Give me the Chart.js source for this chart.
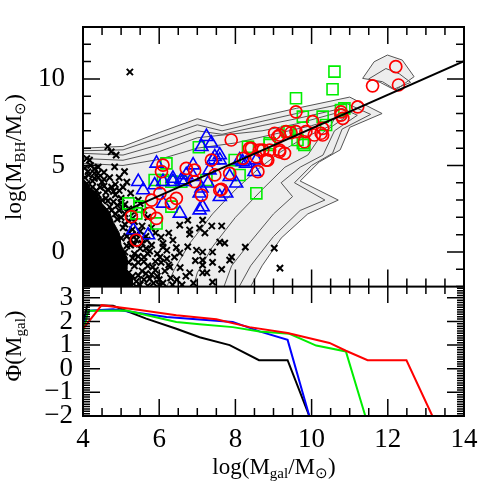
<!DOCTYPE html>
<html>
<head>
<meta charset="utf-8">
<script src="https://cdn.jsdelivr.net/npm/chart.js@4.4.0/dist/chart.umd.min.js"></script>
<style>
  body { margin: 0; background: #fff; }
  #wrap { position: relative; width: 491px; height: 491px; }
  canvas { position: absolute; left: 0; }
  #top { top: 0; }
  #bot { top: 286px; }
</style>
</head>
<body>
<div id="wrap">
  <canvas id="top" width="491" height="287"></canvas>
  <canvas id="bot" width="491" height="205"></canvas>
</div>
<script>
// ---- data ----
// upper panel: log M_BH vs log M_gal
var crosses = [
  [5.23,10.4],[4.65,6.08],[4.74,5.79],[4.87,5.6],[4.17,5.31],[4.83,4.92],[4.13,4.64],[4.39,4.54],[5.09,4.64],
  [4.1,5.4],[4.3,4.55],[4.45,3.75],[4.05,4.3],[4.25,4.1],[4.55,4.2],[4.4,4.9],[4.2,5.0],[4.65,3.6],[4.85,3.9],
  [5.15,4.04],[4.1,3.95],[4.35,3.55],[4.6,3.1],[4.8,2.9],[5.0,3.1],[4.95,2.4],[5.1,2.2],[5.2,1.8],[4.9,1.9],
  [5.05,1.4],[5.3,1.3],[5.15,0.9],[5.4,0.7],[5.25,0.4],[5.5,0.2],[5.35,-0.1],[5.6,-0.3],[5.45,-0.6],[5.7,-0.8],
  [5.55,-1.1],[5.8,-1.3],[5.6,-1.6],[5.85,-1.8],[5.5,-1.9],[5.3,-1.4],[5.2,-0.6],[5.1,0.0],[5.0,0.8],[4.85,2.2],
  [4.7,2.6],[4.5,3.0],[5.35,2.3],[5.55,1.5],[5.65,0.9],[5.8,0.4],[5.95,-0.1],[6.05,-0.6],[6.15,-1.1],[6.3,-1.5],
  [6.0,-1.9],[5.9,1.1],[6.2,0.1],[6.4,-0.3],[6.55,-0.9],[6.7,-1.4],[6.9,-1.8],[6.6,-1.9],[6.75,0.3],[6.95,-0.5],
  [5.7,2.0],[5.5,2.8],[5.25,3.4],[6.54,1.55],[6.75,1.84],[7.06,1.38],[6.8,1.03],[6.36,0.69],[6.1,0.5],[6.8,1.27],
  [6.1,0.28],[6.54,-0.06],[6.98,0.1],[6.28,-0.87],[6.8,-1.2],[6.02,-0.3],[5.68,0.69],[5.83,-0.87],[6.1,-1.8],
  [6.46,-1.6],[7.25,-1.2],[7.14,-0.47],[7.14,1.84],[7.38,1.5],[7.64,1.5],[7.2,1.1],[7.59,0.57],[7.72,0.51],
  [7.14,0.0],[7.4,0.0],[8.26,0.28],[7.9,-0.3],[7.4,-0.6],[7.85,-0.47],[7.14,-0.76],[7.64,-1.0],[7.14,-1.2],
  [9.02,0.22],[9.17,-0.93],[7.4,-1.74],
  // ragged fringe of the dense cloud
  [4.05,4.85],[4.3,4.8],[4.55,4.6],[4.7,4.3],[4.95,4.3],[4.15,4.45],[4.5,4.05],[4.75,3.75],[4.95,3.55],
  [4.25,3.75],[4.6,3.45],[4.85,3.3],[5.1,2.75],[4.75,2.4],[5.0,2.0],[5.2,2.5],[5.35,1.75],[5.1,1.6],[5.4,1.0],
  [5.25,0.7],[5.55,0.5],[5.45,-0.25],[5.35,-0.8],[5.65,-1.25],[5.4,-1.7],[5.75,-1.55],[5.95,-1.4],[5.7,-0.1],
  [5.9,-0.55],[6.2,-0.4],[6.35,-1.9],[6.05,0.85],[5.8,1.4],[5.6,2.4],[5.45,3.0],[5.05,3.75],[4.4,4.3],
  [4.9,2.7],[5.05,2.55],[4.65,2.95],[4.4,3.3],[5.2,1.15],[5.3,0.95],[5.15,0.35],[5.35,0.45],[5.3,-0.35],
  [5.45,-1.35],[5.6,-0.55],[5.2,-1.2],[5.4,-2.0],[5.7,-1.95],[5.65,0.2],[5.5,1.2],[5.3,1.95],[5.0,2.85],
  [4.8,3.5],[4.55,3.8],[4.3,4.25],[5.75,0.05],[5.9,-1.05],[6.0,-1.6],[6.25,-0.75],[6.45,0.25],[6.25,1.1]
];
// the solid black core of the cross cloud
var crossCore = [[4,-2],[4,4.1],[4.2,3.7],[4.35,3.4],[4.5,2.8],[4.7,2.3],[4.8,1.7],[4.95,1.1],[5.0,0.4],
  [5.15,-0.3],[5.15,-1.0],[5.3,-1.5],[5.3,-2],[4,-2]];

var contour1 = [[4,6.0],[5.05,6.1],[6.0,6.9],[7.0,7.7],[7.65,7.3],[8.7,7.85],[9.6,8.3],[11.0,8.95],[11.85,8.0],
  [11.0,7.2],[10.75,5.9],[10.2,5.2],[9.7,4.1],[10.7,3.0],[9.9,2.2],[9.2,0.8],[8.7,-0.8],[8.4,-2],[4,-2],[4,6.0]];
var contour2 = [[4,5.85],[5.05,5.9],[6.0,6.6],[7.0,7.35],[7.65,7.0],[8.7,7.55],[9.6,8.0],[10.9,8.6],[11.55,7.95],
  [10.8,7.1],[10.55,5.7],[10.0,5.0],[9.55,4.0],[10.35,3.0],[9.7,2.4],[9.0,0.9],[8.4,-0.8],[8.1,-2]];
var contour3 = [[4,5.7],[5.05,5.6],[6.0,6.2],[7.0,7.0],[7.65,6.8],[8.7,7.3],[9.6,7.7],[10.8,8.3],[11.2,7.9],
  [10.6,7.0],[10.3,5.6],[9.7,4.9],[9.2,4.0],[9.5,3.2],[9.0,2.2],[8.4,0.6],[7.9,-0.8],[7.7,-2]];
var contour4 = [[4,5.4],[5.05,5.3],[6.0,5.8],[7.0,6.6],[8.7,7.0],[9.6,7.4],[10.6,8.0],[10.9,7.8],
  [10.3,6.9],[9.9,5.6],[9.3,4.9],[8.7,3.6],[8.0,2.0],[7.4,0.3],[7.0,-1.2],[6.9,-2]];
var contour5 = [[4,5.12],[5.05,5.0],[6.0,5.35],[7.0,6.0],[8.0,6.3],[9.0,6.8],[10.0,7.3],[10.6,7.7],
  [10.5,7.3],[9.8,6.6],[9.2,5.8],[8.6,4.8],[8.0,3.6],[7.4,2.2],[6.8,0.5],[6.4,-1.0],[6.2,-2]];
var contourHighOuter = [[11.34,10.03],[11.64,10.99],[11.99,11.38],[12.38,11.09],[12.69,10.13],[12.21,9.36],[11.86,9.84],[11.34,10.03]];
var contourHighInner = [[11.5,10.0],[11.95,10.6],[12.3,10.3],[12.6,9.8],[12.15,9.4],[11.8,9.8],[11.5,10.0]];

var blueTriangles = [
  [7.24,6.66],[7.37,6.28],[7.11,6.08],[7.59,5.6],[5.93,5.12],[5.45,4.06],[5.58,3.58],[5.88,3.87],[6.36,4.25],
  [6.58,4.16],[6.71,4.45],[6.89,5.02],[7.11,3.68],[7.28,3.97],[7.76,3.39],[7.85,4.35],[8.02,3.97],[7.06,2.42],
  [6.1,2.81],[6.54,2.23],[5.32,1.27],[5.71,0.98],[8.11,5.31],[8.19,5.21],[7.41,5.31],[6.89,4.35],[6.36,4.06],
  [6.1,4.06],[6.67,4.06],[7.06,3.39],[7.46,5.5],[7.59,5.31],[7.32,4.73],[7.14,2.6],[7.59,3.19],[8.28,5.12],
  [8.55,5.31],[8.5,4.64]
];
var greenSquares = [
  [7.04,6.05],[6.19,5.12],[5.88,4.16],[6.32,4.06],[5.19,2.81],[5.49,2.62],[5.93,1.65],[6.32,2.62],[7.98,5.31],
  [8.11,4.45],[8.33,6.08],[5.4,2.23],[7.24,4.16],[6.1,4.16],[6.58,4.06],[10.6,10.42],[10.55,9.4],[9.59,8.88],
  [9.77,7.82],[10.29,7.82],[10.77,8.2],[10.86,8.3],[9.37,6.95],[9.63,6.47],[9.81,6.18],[8.9,6.18],[8.55,3.39],
  [10.38,7.34],[9.77,6.28],[9.42,6.95],[8.9,6.28]
];
var redCircles = [
  [12.21,10.71],[11.6,9.6],[12.28,9.65],[11.21,8.39],[10.77,8.1],[10.82,7.72],[10.77,7.91],[9.59,8.1],[10.03,7.53],
  [9.03,6.86],[9.33,6.95],[9.59,6.95],[9.85,6.95],[10.07,6.76],[10.29,6.76],[9.11,6.66],[9.16,6.76],[9.46,6.89],
  [10.25,6.86],[10.29,7.14],[9.81,6.37],[7.89,6.47],[8.42,5.99],[8.63,5.89],[8.9,5.89],[9.16,5.89],[9.29,5.7],
  [8.2,5.41],[8.55,5.5],[8.81,5.31],[8.85,5.31],[7.37,5.31],[7.46,4.45],[7.85,4.54],[8.59,4.64],[7.63,3.62],
  [7.11,3.29],[6.1,5.02],[6.06,4.64],[6.71,4.83],[6.93,4.73],[6.93,4.06],[7.59,3.58],[6.02,3.39],[5.8,3.0],
  [6.45,3.1],[6.32,2.81],[5.75,2.23],[5.93,1.94],[5.27,2.04],[5.4,0.69],[8.37,5.99],[8.72,5.89],[9.16,5.79]
];
var fitLine = [[5.15,2.42],[14,11.03]];

// lower panel: Phi(M_gal)
var phiBlack = [[4.0,1.83],[4.11,2.69],[4.79,2.66],[5.66,2.12],[6.45,1.69],[7.06,1.33],[7.85,1.0],[8.62,0.36],[9.37,0.36],[9.94,-2]];
var phiBlue  = [[4.0,1.83],[4.14,2.45],[4.79,2.52],[6.19,2.19],[7.93,1.98],[8.63,1.58],[9.37,1.22],[9.94,-2]];
var phiGreen = [[4.0,1.55],[4.14,2.45],[5.14,2.46],[6.45,1.98],[7.06,1.88],[7.93,1.76],[8.63,1.58],[9.42,1.48],[10.12,0.98],[10.9,0.73],[11.41,-2]];
var phiRed   = [[4.0,1.69],[4.49,2.69],[5.49,2.48],[6.45,2.26],[7.5,2.09],[8.37,1.76],[9.37,1.51],[10.47,1.09],[10.9,0.76],[11.47,0.36],[12.49,0.36],[13.17,-2]];

// tick labels
var xTickLabels = [4, 6, 8, 10, 12, 14];
var yTopTickLabels = [0, 5, 10];
var yBotTickLabels = [-2, -1, 0, 1, 2, 3];

function pts(a) { return a.map(function (p) { return {x: p[0], y: p[1]}; }); }
function minus(v) { return String(v).replace('-', '\u2212'); }
var FONT = 'Liberation Serif';

function range(a, b, step) {
  var out = [];
  for (var v = a; v <= b + 1e-9; v += step) out.push(Math.round(v * 100) / 100);
  return out;
}

// frame, inward ticks and axis titles
function drawTitle(ctx, parts, cx, cy, rot) {
  var big = '23px "' + FONT + '"', small = '15px "' + FONT + '"';
  ctx.save();
  ctx.translate(cx, cy);
  if (rot) ctx.rotate(-Math.PI / 2);
  ctx.fillStyle = '#000';
  ctx.textBaseline = 'middle';
  var w = 0;
  parts.forEach(function (p) { ctx.font = p[1] ? small : big; w += ctx.measureText(p[0]).width; });
  var xx = -w / 2;
  parts.forEach(function (p) {
    ctx.font = p[1] ? small : big;
    ctx.fillText(p[0], xx, p[1] ? 6 : 0);
    xx += ctx.measureText(p[0]).width;
  });
  ctx.restore();
}
function decor(o) {
  return {
    id: 'decor',
    afterDraw: function (chart) {
      var ctx = chart.ctx, a = chart.chartArea, x = chart.scales.x, y = chart.scales.y;
      function tickX(v, len) {
        var p = x.getPixelForValue(v);
        ctx.moveTo(p, a.bottom); ctx.lineTo(p, a.bottom - len);
        ctx.moveTo(p, a.top); ctx.lineTo(p, a.top + len);
      }
      function tickY(v, len) {
        var p = y.getPixelForValue(v);
        ctx.moveTo(a.left, p); ctx.lineTo(a.left + len, p);
        ctx.moveTo(a.right, p); ctx.lineTo(a.right - len, p);
      }
      ctx.save();
      ctx.strokeStyle = '#000';
      ctx.lineWidth = 1.5;
      ctx.beginPath();
      o.xMinor.forEach(function (v) { tickX(v, o.minLen); });
      o.xMajor.forEach(function (v) { tickX(v, o.majLen); });
      o.yMinor.forEach(function (v) { tickY(v, o.yMinLen); });
      o.yMajor.forEach(function (v) { tickY(v, o.majLen); });
      ctx.stroke();
      ctx.lineWidth = 2;
      ctx.strokeRect(a.left, a.top, a.right - a.left, a.bottom - a.top);
      ctx.restore();
      o.titles.forEach(function (t) { drawTitle(ctx, t.parts, t.x, t.y, t.rot); });
    }
  };
}

function poly(data, opts) {
  return Object.assign({
    data: pts(data), showLine: true, pointRadius: 0, borderColor: '#555', borderWidth: 1,
    fill: false, tension: 0
  }, opts || {});
}

function noPad(s) { s.paddingTop = 0; s.paddingBottom = 0; s.paddingLeft = 0; s.paddingRight = 0; }

function topConfig() {
  return {
    type: 'scatter',
    data: {
      datasets: [
        poly(contour1, {fill: 'shape', backgroundColor: '#ededed', order: 20}),
        poly(contour2, {order: 19}),
        poly(contour3, {order: 18}),
        poly(contour4, {order: 17}),
        poly(contour5, {order: 16}),
        poly(contourHighOuter, {fill: 'shape', backgroundColor: '#ededed', order: 15}),
        poly(contourHighInner, {order: 14}),
        poly(crossCore, {fill: 'shape', backgroundColor: '#000', borderColor: '#000', order: 12}),
        {data: pts(crosses), pointStyle: 'crossRot', pointRadius: 4.4, borderColor: '#000', borderWidth: 2, order: 11},
        {data: pts(greenSquares), pointStyle: 'rect', pointRadius: 7.8, borderColor: '#00ee00', backgroundColor: 'rgba(0,0,0,0)', borderWidth: 1.6, order: 5},
        {data: pts(blueTriangles), pointStyle: 'triangle', pointRadius: 7.5, borderColor: '#0000ff', backgroundColor: 'rgba(0,0,0,0)', borderWidth: 1.6, order: 4},
        {data: pts(redCircles), pointStyle: 'circle', pointRadius: 6, borderColor: '#ff0000', backgroundColor: 'rgba(0,0,0,0)', borderWidth: 1.7, order: 3},
        poly(fitLine, {borderColor: '#000', borderWidth: 2, order: 1})
      ]
    },
    options: {
      responsive: false, animation: false, events: [],
      layout: {padding: {top: 27, right: 27, left: 0, bottom: 0}},
      scales: {
        x: {
          type: 'linear', min: 4, max: 14,
          grid: {display: false, drawTicks: false}, border: {display: false},
          ticks: {display: false},
          afterFit: function (s) { s.height = 0; noPad(s); }
        },
        y: {
          type: 'linear', min: -2, max: 13,
          grid: {display: false, drawTicks: false}, border: {display: false},
          afterFit: function (s) { s.width = 83; noPad(s); },
          afterBuildTicks: function (s) { s.ticks = yTopTickLabels.map(function (v) { return {value: v}; }); },
          ticks: {color: '#000', padding: 18, autoSkip: false, font: {family: FONT, size: 27}, callback: minus}
        }
      },
      plugins: {legend: {display: false}, tooltip: {enabled: false}}
    },
    plugins: [decor({
      xMajor: xTickLabels, xMinor: range(4, 14, 0.5), yMajor: yTopTickLabels, yMinor: range(-2, 13, 1),
      majLen: 17, minLen: 8, yMinLen: 8,
      titles: [{parts: [['log(M', 0], ['BH', 1], ['/M', 0], ['\u2299', 1], [')', 0]], x: 15, y: 157, rot: true}]
    })]
  };
}

// the upper panel must end exactly where the lower one starts
var topCanvas = document.getElementById('top');
var topChart = new Chart(topCanvas, topConfig());
var gap = Math.round(287 - topChart.chartArea.bottom);
if (gap > 0) {
  topChart.destroy();
  topCanvas.height = 287 + gap;
  topChart = new Chart(topCanvas, topConfig());
}

new Chart(document.getElementById('bot'), {
  type: 'scatter',
  data: {
    datasets: [
      poly(phiRed, {borderColor: '#ff0000', borderWidth: 2, order: 1}),
      poly(phiGreen, {borderColor: '#00ee00', borderWidth: 2, order: 2}),
      poly(phiBlue, {borderColor: '#0000ff', borderWidth: 2, order: 3}),
      poly(phiBlack, {borderColor: '#000', borderWidth: 2, order: 4})
    ]
  },
  options: {
    responsive: false, animation: false, events: [],
    layout: {padding: {top: 0, right: 27, left: 0, bottom: 0}},
    scales: {
      x: {
        type: 'linear', min: 4, max: 14,
        grid: {display: false, drawTicks: false}, border: {display: false},
        afterFit: function (s) { s.height = 75; noPad(s); },
        afterBuildTicks: function (s) { s.ticks = xTickLabels.map(function (v) { return {value: v}; }); },
        ticks: {color: '#000', padding: 8, maxRotation: 0, autoSkip: false, font: {family: FONT, size: 27}}
      },
      y: {
        type: 'linear', min: -2, max: 3.5,
        grid: {display: false, drawTicks: false}, border: {display: false},
        afterFit: function (s) { s.width = 83; noPad(s); },
        afterBuildTicks: function (s) { s.ticks = yBotTickLabels.map(function (v) { return {value: v}; }); },
        ticks: {color: '#000', padding: 10, autoSkip: false, font: {family: FONT, size: 27}, callback: minus}
      }
    },
    plugins: {legend: {display: false}, tooltip: {enabled: false}}
  },
  plugins: [decor({
    xMajor: xTickLabels, xMinor: range(4, 14, 0.5), yMajor: yBotTickLabels, yMinor: range(-2, 3.5, 0.1),
    majLen: 17, minLen: 8, yMinLen: 7,
    titles: [
      {parts: [['\u03A6(M', 0], ['gal', 1], [')', 0]], x: 15, y: 60, rot: true},
      {parts: [['log(M', 0], ['gal', 1], ['/M', 0], ['\u2299', 1], [')', 0]], x: 274, y: 182, rot: false}
    ]
  })]
});
</script>
</body>
</html>
